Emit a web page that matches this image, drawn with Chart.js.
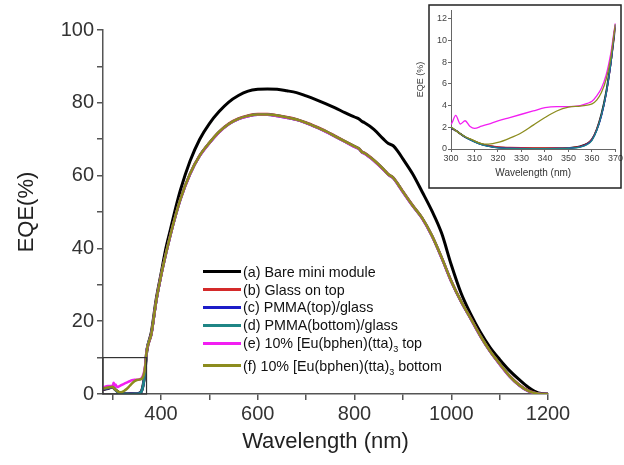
<!DOCTYPE html>
<html>
<head>
<meta charset="utf-8">
<script src="https://cdn.jsdelivr.net/npm/chart.js@4.4.0/dist/chart.umd.min.js"></script>
<style>
  html, body { margin: 0; padding: 0; background: #fff; }
  #wrap { position: relative; width: 624px; height: 465px; overflow: hidden; }
  #mainChart { position: absolute; left: 0; top: 0; }
  #insetChart { position: absolute; left: 410px; top: 2px; }
  #legend { position: absolute; left: 203px; top: 263px; font-family: "Liberation Sans", Arial, sans-serif; font-size: 14.3px; color: #111; }
  .row { display: flex; align-items: center; height: 17.8px; white-space: nowrap; }
  .row.last { margin-top: 5px; }
  .swatch { width: 38px; height: 3px; margin-right: 2px; }
  sub { font-size: 9px; vertical-align: -4px; line-height: 0; }
</style>
</head>
<body>
<div id="wrap">
  <canvas id="mainChart" width="624" height="465"></canvas>
  <canvas id="insetChart" width="214" height="190"></canvas>
  <div id="legend"></div>
</div>
<script>
// wavelength grid (nm)
const wavelengths = [280, 290, 300, 302, 304, 306, 308, 310, 313, 316,
  320, 325, 330, 335, 340, 345, 350, 355, 358, 360,
  362, 364, 366, 368, 370, 380, 390, 400, 410, 420,
  430, 440, 460, 480, 500, 520, 540, 560, 580, 600,
  620, 640, 660, 680, 700, 720, 740, 760, 780, 800,
  810, 815, 820, 840, 860, 870, 880, 890, 900, 920,
  940, 960, 980, 1000, 1020, 1040, 1060, 1080, 1100, 1120,
  1140, 1160, 1180, 1200];

// EQE (%) for each sample
const bareModule = [1.2, 1.5, 1.9, 1.7, 1.4, 1.1, 0.9, 0.7, 0.45, 0.3,
  0.15, 0.1, 0.05, 0.05, 0.05, 0.05, 0.1, 0.25, 0.5, 0.9,
  1.8, 3.2, 5.2, 8.0, 11.2, 17, 26, 33, 40, 45.5,
  51, 56, 64, 70, 74.3, 77.6, 80.2, 82, 83.2, 83.7,
  83.8, 83.7, 83.3, 82.8, 81.9, 80.9, 79.8, 78.6, 77.3, 76.1,
  75.5, 74.9, 74.6, 72.7, 70, 68.8, 68.2, 66.6, 64.6, 60.5,
  55.5, 50.3, 44.2, 35.5, 27.8, 22, 17, 12.8, 9.5, 6.5,
  4, 1.8, 0.3, 0];
const glassTop = [1.3, 1.6, 1.9, 1.7, 1.4, 1.1, 0.9, 0.7, 0.45, 0.3,
  0.2, 0.15, 0.12, 0.1, 0.1, 0.1, 0.12, 0.25, 0.5, 0.9,
  1.8, 3.1, 5.0, 7.8, 11.3, 16.6, 25.6, 32.6, 38.6, 44.1,
  49.1, 53.6, 60.6, 65.6, 69.1, 72.1, 74.3, 75.7, 76.5, 76.9,
  76.9, 76.6, 76.1, 75.5, 74.6, 73.5, 72.3, 70.9, 69.5, 68.1,
  67.4, 66.6, 66.3, 64.3, 61.8, 60.4, 59.5, 57.7, 55.7, 51.9,
  48.4, 43.6, 37.6, 31.1, 25.6, 20.9, 16.1, 11.9, 8.4, 5.1,
  2.6, 0.9, 0.1, 0];
const pmmaTop = [1.3, 1.6, 1.9, 1.7, 1.4, 1.1, 0.85, 0.65, 0.4, 0.25,
  0.12, 0.08, 0.05, 0.04, 0.04, 0.05, 0.08, 0.2, 0.45, 0.85,
  1.7, 3.0, 5.0, 7.8, 11.4, 16.4, 25.4, 32.4, 38.4, 43.9,
  48.9, 53.4, 60.4, 65.4, 68.9, 71.9, 74.1, 75.5, 76.3, 76.7,
  76.7, 76.4, 75.9, 75.3, 74.4, 73.3, 72.1, 70.7, 69.3, 67.9,
  67.2, 66.4, 66.1, 64.1, 61.6, 60.2, 59.3, 57.5, 55.5, 51.7,
  48.2, 43.4, 37.4, 30.9, 25.4, 20.7, 15.9, 11.7, 8.2, 4.9,
  2.4, 0.7, 0.1, 0];
const pmmaBottom = [1.4, 1.7, 2.0, 1.7, 1.4, 1.1, 0.85, 0.65, 0.4, 0.25,
  0.1, 0.06, 0.04, 0.03, 0.03, 0.04, 0.07, 0.18, 0.42, 0.8,
  1.7, 3.1, 5.1, 7.9, 11.5, 16.5, 25.5, 32.5, 38.5, 44,
  49, 53.5, 60.5, 65.5, 69, 72, 74.2, 75.6, 76.4, 76.8,
  76.8, 76.5, 76, 75.4, 74.5, 73.4, 72.2, 70.8, 69.4, 68,
  67.3, 66.5, 66.2, 64.2, 61.7, 60.3, 59.4, 57.6, 55.6, 51.8,
  48.3, 43.5, 37.5, 31, 25.5, 20.8, 16, 11.8, 8.3, 5,
  2.5, 0.8, 0.1, 0];
const euTop = [1.8, 2.2, 2.3, 3.1, 2.3, 2.6, 2.1, 1.9, 2.1, 2.3,
  2.6, 2.9, 3.2, 3.5, 3.8, 3.9, 3.9, 4.0, 4.2, 4.4,
  4.9, 5.6, 6.8, 8.8, 11.6, 16.4, 25.4, 32.4, 38.4, 43.9,
  48.9, 53.4, 60.4, 65.4, 68.9, 71.9, 74.1, 75.5, 76.3, 76.7,
  76.7, 76.4, 75.9, 75.3, 74.4, 73.3, 72.1, 70.7, 69.3, 67.9,
  67.2, 66.4, 66.1, 64.1, 61.6, 60.2, 59.3, 57.5, 55.5, 51.7,
  48.2, 43.4, 37.4, 30.9, 25.4, 20.7, 15.9, 11.7, 8.2, 4.9,
  2.4, 0.7, 0.1, 0];
const euBottom = [1.5, 1.8, 2.0, 1.7, 1.4, 1.15, 0.95, 0.75, 0.5, 0.45,
  0.6, 1.0, 1.5, 2.2, 2.9, 3.5, 3.85, 3.95, 4.05, 4.15,
  4.5, 5.2, 6.4, 8.4, 11.5, 16.5, 25.5, 32.5, 38.5, 44,
  49, 53.5, 60.5, 65.5, 69, 72, 74.2, 75.6, 76.4, 76.8,
  76.8, 76.5, 76, 75.4, 74.5, 73.4, 72.2, 70.8, 69.4, 68,
  67.3, 66.5, 66.2, 64.2, 61.7, 60.3, 59.4, 57.6, 55.6, 51.8,
  48.3, 43.5, 37.5, 31, 25.5, 20.8, 16, 11.8, 8.3, 5,
  2.5, 0.8, 0.1, 0];

const seriesNames = ['(a) Bare mini module', '(b) Glass on top', '(c) PMMA(top)/glass',
  '(d) PMMA(bottom)/glass', '(e) 10% [Eu(bphen)(tta)<sub>3</sub> top', '(f) 10% [Eu(bphen)(tta)<sub>3</sub> bottom'];
const seriesValues = [bareModule, glassTop, pmmaTop, pmmaBottom, euTop, euBottom];
const seriesColors = ['#000000', '#d42a2a', '#1c1cc8', '#1f8585', '#f21ef2', '#8c8c1e'];

// zoomed region shown in the inset
const zoomBox = { xMin: 280, xMax: 370, yMin: 0, yMax: 10 };

Chart.defaults.font.family = '"Liberation Sans", Arial, sans-serif';
Chart.defaults.animation = false;

function makeDatasets(width) {
  return seriesValues.map((vals, i) => ({
    label: seriesNames[i],
    data: wavelengths.map((w, k) => ({ x: w, y: vals[k] })),
    borderColor: seriesColors[i],
    backgroundColor: seriesColors[i],
    borderWidth: i === 0 ? width + 0.5 : width,
    pointRadius: 0,
    cubicInterpolationMode: 'monotone',
    order: seriesValues.length - i
  }));
}

const boxPlugin = {
  id: 'zoomBox',
  afterDatasetsDraw(chart) {
    const { ctx, scales } = chart;
    const x1 = scales.x.getPixelForValue(zoomBox.xMin);
    const x2 = scales.x.getPixelForValue(zoomBox.xMax);
    const y1 = scales.y.getPixelForValue(zoomBox.yMax);
    const y2 = scales.y.getPixelForValue(zoomBox.yMin);
    ctx.save();
    ctx.strokeStyle = '#333';
    ctx.lineWidth = 1.2;
    ctx.strokeRect(x1, y1, x2 - x1, y2 - y1);
    ctx.restore();
  }
};

new Chart(document.getElementById('mainChart'), {
  type: 'line',
  data: { datasets: makeDatasets(2.5) },
  plugins: [boxPlugin],
  options: {
    responsive: false,
    layout: { padding: { top: 30, right: 76, left: 0, bottom: 0 } },
    plugins: { legend: { display: false }, tooltip: { enabled: false } },
    scales: {
      x: {
        type: 'linear', min: 280, max: 1200,
        ticks: { stepSize: 100, includeBounds: false, autoSkip: false, maxRotation: 0,
          callback: v => (v % 200 === 0 ? v : ''), font: { size: 20 }, color: '#333', padding: 2 },
        grid: { drawOnChartArea: false, tickLength: 6, color: '#555', lineWidth: 1.5 },
        border: { color: '#555', width: 1.5 },
        title: { display: true, text: 'Wavelength (nm)', font: { size: 22 }, color: '#222', padding: { top: 0, bottom: 10 } },
        afterFit: s => { s.height = 71; }
      },
      y: {
        min: 0, max: 100,
        ticks: { stepSize: 10, includeBounds: false, autoSkip: false,
          callback: v => (v % 20 === 0 ? v : ''), font: { size: 20 }, color: '#333', padding: 3 },
        grid: { drawOnChartArea: false, tickLength: 6, color: '#555', lineWidth: 1.5 },
        border: { color: '#555', width: 1.5 },
        title: { display: true, text: 'EQE(%)', font: { size: 22 }, color: '#222', padding: { top: 14, bottom: 0 } },
        afterFit: s => { s.width = 103; }
      }
    }
  }
});

const framePlugin = {
  id: 'insetFrame',
  beforeDraw(chart) {
    const ctx = chart.ctx;
    ctx.save();
    ctx.fillStyle = '#fff';
    ctx.fillRect(19, 3, 192, 183);
    ctx.restore();
  },
  afterDraw(chart) {
    const ctx = chart.ctx;
    ctx.save();
    ctx.strokeStyle = '#222';
    ctx.lineWidth = 1.5;
    ctx.strokeRect(19, 3, 192, 183);
    ctx.restore();
  }
};

new Chart(document.getElementById('insetChart'), {
  type: 'line',
  data: { datasets: makeDatasets(1.3) },
  plugins: [framePlugin],
  options: {
    responsive: false,
    layout: { padding: { top: 8, right: 6, left: 0, bottom: 0 } },
    plugins: { legend: { display: false }, tooltip: { enabled: false } },
    scales: {
      x: {
        type: 'linear', min: 300, max: 370,
        ticks: { stepSize: 10, includeBounds: false, autoSkip: false, maxRotation: 0,
          font: { size: 9 }, color: '#444', padding: 1 },
        grid: { drawOnChartArea: false, tickLength: 3, color: '#666', lineWidth: 1 },
        border: { color: '#666', width: 1 },
        title: { display: true, text: 'Wavelength (nm)', font: { size: 10 }, color: '#333', padding: { top: 0, bottom: 13 } },
        afterFit: s => { s.height = 43; }
      },
      y: {
        min: 0, max: 12.8,
        ticks: { stepSize: 2, includeBounds: false, autoSkip: false, font: { size: 9 }, color: '#444', padding: 1 },
        grid: { drawOnChartArea: false, tickLength: 3, color: '#666', lineWidth: 1 },
        border: { color: '#666', width: 1 },
        title: { display: true, text: 'EQE (%)', font: { size: 9 }, color: '#333', padding: { top: 5, bottom: 0 } },
        afterFit: s => { s.width = 41; }
      }
    }
  }
});

// legend drawn inside the plot area
const legendEl = document.getElementById('legend');
seriesNames.forEach((name, i) => {
  const row = document.createElement('div');
  row.className = 'row' + (i === seriesNames.length - 1 ? ' last' : '');
  const sw = document.createElement('span');
  sw.className = 'swatch';
  sw.style.background = seriesColors[i];
  const txt = document.createElement('span');
  txt.innerHTML = name;
  row.appendChild(sw);
  row.appendChild(txt);
  legendEl.appendChild(row);
});
</script>
</body>
</html>
